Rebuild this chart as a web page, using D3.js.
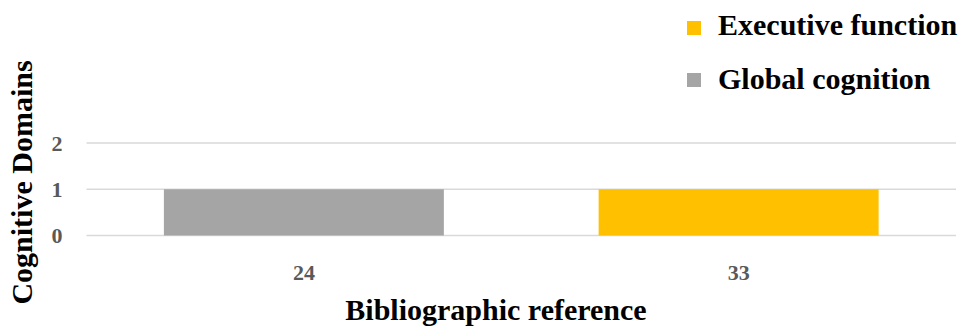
<!DOCTYPE html>
<html>
<head>
<meta charset="utf-8">
<script src="https://cdn.jsdelivr.net/npm/d3@7"></script>
<style>
  body { margin: 0; background: #fff; }
  text { font-family: 'Liberation Serif', 'Times New Roman', serif; font-weight: bold; }
</style>
</head>
<body>
<div id="chart"></div>
<script>
const categories = ['24', '33']
const seriesNames = ['Executive function', 'Global cognition']
const seriesColors = ['#ffc000', '#a5a5a5']
// which domain each reference studied, and its count
const barSeries = ['Global cognition', 'Executive function']
const barValues = [1, 1]
const yTicks = [0, 1, 2]

const width = 965, height = 326
const margin = { top: 143, right: 9, bottom: 90.5, left: 86.5 }

const svg = d3.select('#chart')
  .append('svg')
  .attr('width', width)
  .attr('height', height)

const x = d3.scaleBand()
  .domain(categories)
  .range([margin.left, width - margin.right])
  .paddingInner(0.356)
  .paddingOuter(0.178)

const y = d3.scaleLinear()
  .domain([0, 2])
  .range([height - margin.bottom, margin.top])

const color = d3.scaleOrdinal(seriesNames, seriesColors)

// gridlines
svg.append('g')
  .selectAll('line')
  .data(yTicks)
  .join('line')
  .attr('x1', margin.left)
  .attr('x2', width - margin.right)
  .attr('y1', d => y(d))
  .attr('y2', d => y(d))
  .attr('stroke', '#d9d9d9')
  .attr('stroke-width', 1.5)

// y tick labels
svg.append('g')
  .selectAll('text')
  .data(yTicks)
  .join('text')
  .attr('x', 57)
  .attr('y', d => y(d) + 7.5)
  .attr('text-anchor', 'middle')
  .attr('fill', '#595959')
  .attr('font-size', 22)
  .text(d => d)

// bars
svg.append('g')
  .selectAll('rect')
  .data(categories)
  .join('rect')
  .attr('x', d => x(d))
  .attr('width', x.bandwidth())
  .attr('y', (d, i) => y(barValues[i]))
  .attr('height', (d, i) => y(0) - y(barValues[i]))
  .attr('fill', (d, i) => color(barSeries[i]))

// x tick labels
svg.append('g')
  .selectAll('text')
  .data(categories)
  .join('text')
  .attr('x', d => x(d) + x.bandwidth() / 2)
  .attr('y', 280)
  .attr('text-anchor', 'middle')
  .attr('fill', '#595959')
  .attr('font-size', 22)
  .text(d => d)

// axis titles
svg.append('text')
  .attr('x', 496)
  .attr('y', 320)
  .attr('text-anchor', 'middle')
  .attr('font-size', 30)
  .attr('fill', '#000')
  .text('Bibliographic reference')

svg.append('text')
  .attr('transform', 'translate(32, 182.5) rotate(-90)')
  .attr('text-anchor', 'middle')
  .attr('font-size', 30)
  .attr('fill', '#000')
  .text('Cognitive Domains')

// legend
const legend = svg.append('g')
  .selectAll('g')
  .data(seriesNames)
  .join('g')
  .attr('transform', (d, i) => `translate(687, ${28 + i * 52})`)

legend.append('rect')
  .attr('x', 0)
  .attr('y', -7)
  .attr('width', 14)
  .attr('height', 14)
  .attr('fill', d => color(d))

legend.append('text')
  .attr('x', 31)
  .attr('y', (d, i) => 7 + i * 2)
  .attr('font-size', 30)
  .attr('fill', '#000')
  .text(d => d)
</script>
</body>
</html>
